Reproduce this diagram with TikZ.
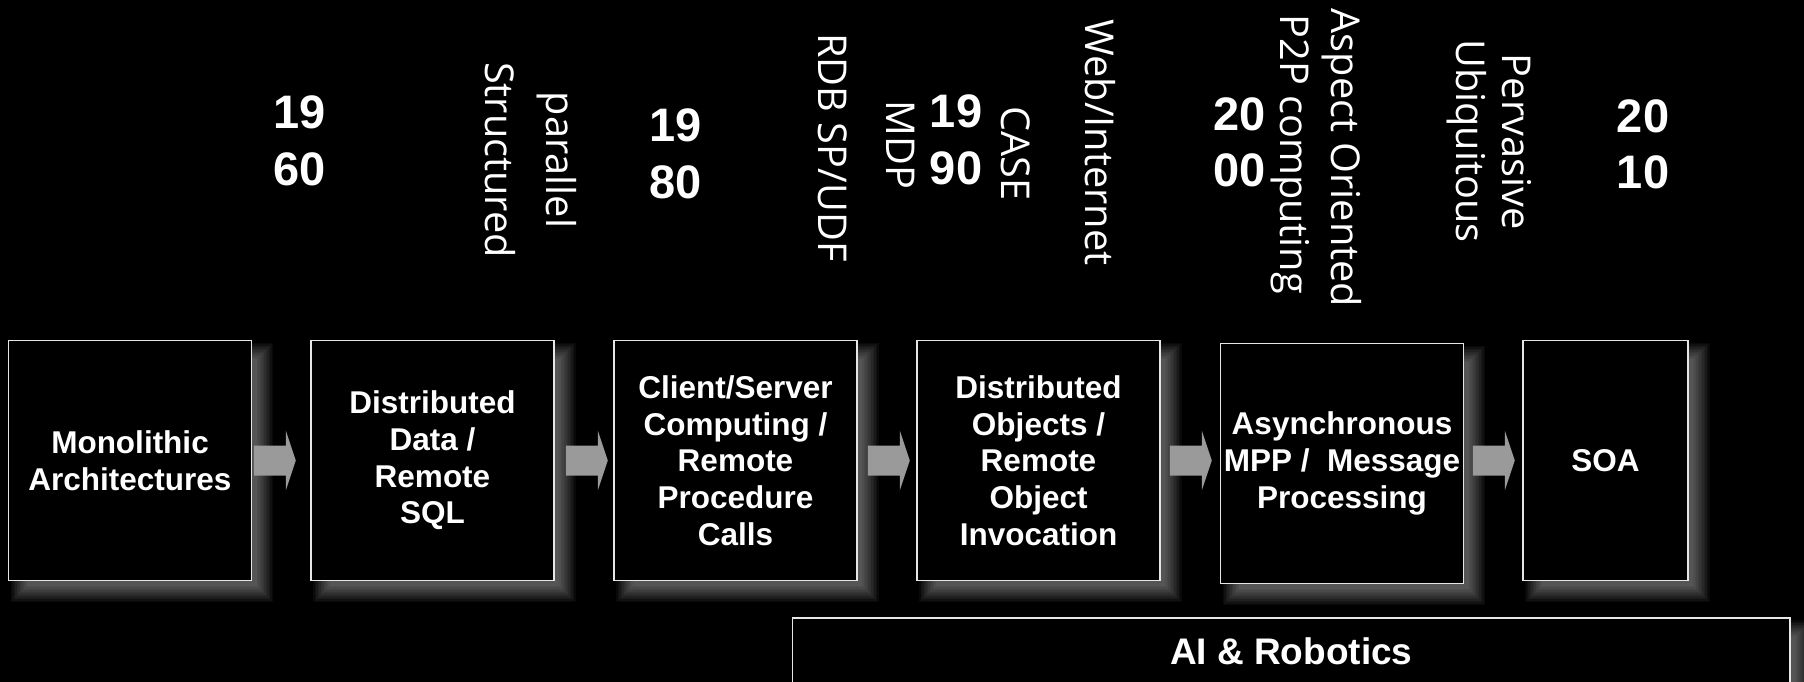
\documentclass[tikz,border=0pt]{standalone}
\usepackage{fontspec}
\setmainfont{Liberation Sans}
\newfontfamily\vfont{Open Sans}
\usetikzlibrary{calc,backgrounds}
\definecolor{arrowgray}{HTML}{9A9A9A}
\definecolor{edgegray}{HTML}{E6E6E6}
\newcommand\glow[1]{%
  \foreach \k in {0,...,11}{%
    \pgfmathsetmacro\dd{-9+1.5*\k}%
    \fill[white,fill opacity=0.035] ($(#1.north west)+(12+\dd,12+\dd)$) rectangle ($(#1.south east)+(12-\dd,12-\dd)$);
  }}
\newcommand\blockarrow[1]{%
  \fill[arrowgray] #1 ++(0,-15) -- ++(32,0) -- ++(0,-15) -- ++(10,30) -- ++(-10,30) -- ++(0,-15) -- ++(-32,0) -- cycle;}
\begin{document}
\begin{tikzpicture}[x=1pt,y=-1pt,
  box/.style={draw=edgegray, line width=1.5pt, fill=black, text=white,
    font=\bfseries\fontsize{31.5}{36.7}\selectfont, align=center,
    minimum width=243pt, minimum height=240pt, inner sep=0pt},
  year/.style={text=white, font=\bfseries\fontsize{47}{56.5}\selectfont, align=center, inner sep=0pt},
  vlabel/.style={text=white, font=\vfont\fontsize{39.7}{47}\selectfont, rotate=-90, anchor=base, inner sep=0pt}]
\useasboundingbox (0,0) rectangle (1804,682);

% boxes
\node[box] (b1) at (130,460.5) {Monolithic\\Architectures};
\node[box] (b2) at (432.5,460.5) {Distributed\\Data /\\Remote\\SQL};
\node[box] (b3) at (735.5,460.5) {Client/Server\\Computing /\\Remote\\Procedure\\Calls};
\node[box] (b4) at (1038.5,460.5) {Distributed\\Objects /\\Remote\\Object\\Invocation};
\node[box] (b5) at (1342,463.3) {Asynchronous\\MPP /\ \ Message\\Processing};
\node[box, minimum width=165pt] (b6) at (1605.5,460.5) {SOA};
\node[box, minimum width=997.3pt, minimum height=67.4pt, font=\bfseries\fontsize{37}{42}\selectfont] (ai) at (1291.3,651.7) {AI \& Robotics};

% arrows
\blockarrow{($(b1.east)+(1.5,0)$)}
\blockarrow{($(b2.east)+(11,0)$)}
\blockarrow{($(b3.east)+(10,0)$)}
\blockarrow{($(b4.east |- b1.east)+(9,0)$)}
\blockarrow{($(b5.east |- b6.east)+(8.5,0)$)}

% years
\node[year] (y1960) at (299.5,140.8) {19\\60};
\node[year] (y1980) at (675.3,153.8) {19\\80};
\node[year] (y1990) at (956,140) {19\\90};
\node[year] (y2000) at (1239.3,142.5) {20\\00};
\node[year] (y2010) at (1643,144.2) {20\\10};

% vertical labels
\node[vlabel] (t1) at (485,160) {Structured};
\node[vlabel] (t2) at (546.7,160) {parallel};
\node[vlabel] (t3) at (818.3,147.5) {RDB SP/UDF};
\node[vlabel] (t4) at (886.7,145) {MDP};
\node[vlabel] (t5) at (1001.7,153.8) {CASE};
\node[vlabel] (t6) at (1085,142.5) {Web/Internet};
\node[vlabel] (t7) at (1280.3,154.2) {P2P computing};
\node[vlabel] (t8) at (1331,158) {Aspect Oriented};
\node[vlabel] (t9) at (1456,140.8) {Ubiquitous};
\node[vlabel] (t10) at (1502,141.7) {Pervasive};

\begin{scope}[on background layer]
  \fill[black] (0,0) rectangle (1804,682);
  \glow{b1}\glow{b2}\glow{b3}\glow{b4}\glow{b5}\glow{b6}\glow{ai}
\end{scope}
\end{tikzpicture}
\end{document}
